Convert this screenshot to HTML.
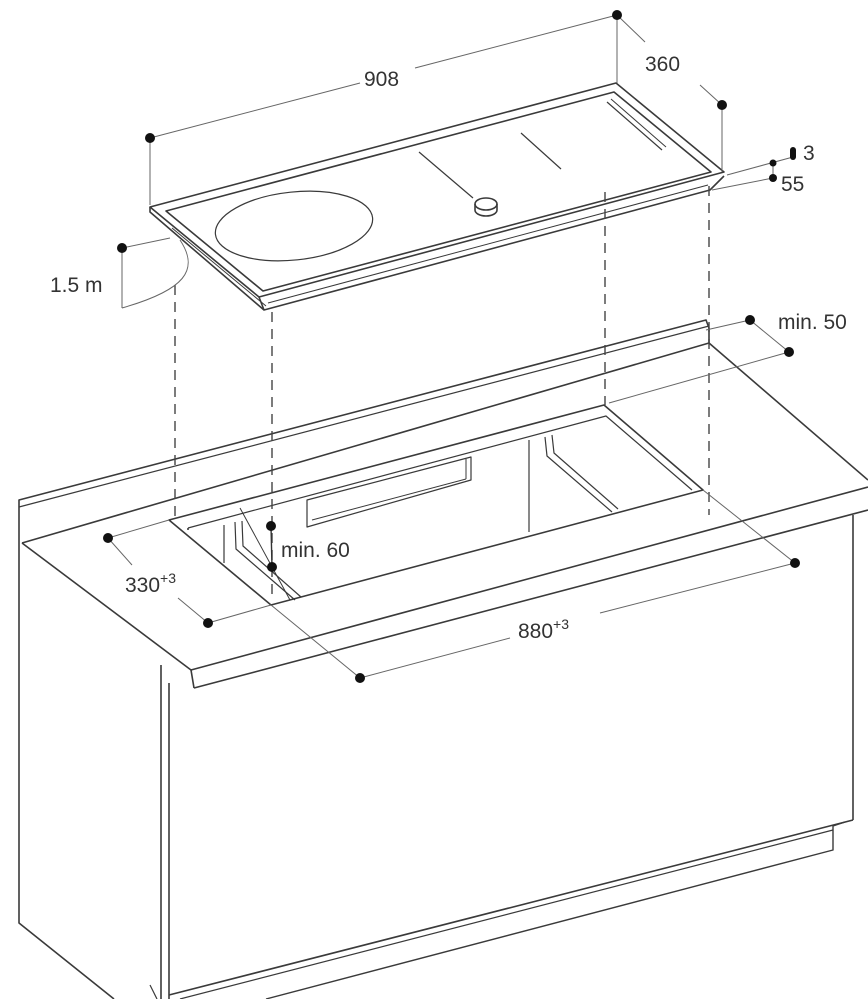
<!DOCTYPE html>
<html><head><meta charset="utf-8"><style>
html,body{margin:0;padding:0;background:#fff;width:868px;height:999px;overflow:hidden}
svg{display:block}
text{font-family:"Liberation Sans",sans-serif;fill:#333;font-size:21px}
</style></head><body>
<svg width="868" height="999" viewBox="0 0 868 999" xmlns="http://www.w3.org/2000/svg">
<g fill="none" stroke="#3a3a3a" stroke-width="1.6" stroke-linejoin="round">
<!-- cooktop -->
<polygon points="150,207 616,83 724,172 259,297"/>
<polygon points="166,211 614,92 711,172 263,291"/>
<polyline points="150,207 150,212 264,310 710,190 724,176"/>
<line x1="259" y1="297" x2="264" y2="310"/>
<line x1="172" y1="228" x2="266" y2="306" stroke-width="1"/>
<line x1="268" y1="303" x2="708" y2="185" stroke-width="1"/>
<ellipse cx="294" cy="226" rx="79" ry="34" transform="rotate(-6 294 226)" stroke-width="1.2"/>
<line x1="419" y1="152" x2="473" y2="198" stroke-width="1.2"/>
<ellipse cx="486" cy="204" rx="11" ry="6"/>
<path d="M475,204 v6 a11,6 0 0 0 22,0 v-6"/>
<line x1="521" y1="133" x2="561" y2="169" stroke-width="1.2"/>
<line x1="607" y1="102" x2="662" y2="150" stroke-width="1.2"/>
<line x1="611" y1="99" x2="666" y2="147" stroke-width="1"/>
<!-- countertop -->
<polyline points="19,545 19,500 706,320 709,328"/>
<line x1="19" y1="507" x2="709" y2="326" stroke-width="1.2"/>
<line x1="22" y1="543" x2="709" y2="343"/>
<line x1="709" y1="328" x2="709" y2="343"/>
<line x1="22" y1="543" x2="191" y2="670"/>
<line x1="191" y1="670" x2="868" y2="487"/>
<line x1="194" y1="688" x2="868" y2="510"/>
<line x1="191" y1="670" x2="194" y2="688"/>
<line x1="709" y1="343" x2="868" y2="480"/>
<!-- cutout -->
<polygon points="169,520 604,405 703,490 271,605"/>
<polyline points="188,528 606,416 692,490" stroke-width="1.2"/>
<line x1="188" y1="528" x2="188" y2="530"/>
<line x1="240" y1="508" x2="290" y2="600" stroke-width="1"/>
<line x1="224" y1="525" x2="224" y2="563" stroke-width="1.2"/>
<polyline points="235,522 236,549 295,600" stroke-width="1.2"/>
<polyline points="242,521 243,546 301,597" stroke-width="1.2"/>
<polygon points="307,500 471,457 471,480 307,527" stroke-width="1.2"/>
<line x1="312" y1="520" x2="466" y2="479" stroke-width="1"/>
<line x1="466" y1="459" x2="466" y2="479" stroke-width="1"/>
<line x1="529" y1="440" x2="529" y2="532" stroke-width="1.2"/>
<polyline points="545,437 547,456 612,512" stroke-width="1.2"/>
<polyline points="552,435 554,453 618,509" stroke-width="1.2"/>
<!-- cabinet -->
<polyline points="19,545 19,923 114,999"/>
<line x1="161" y1="665" x2="161" y2="999"/>
<line x1="169" y1="683" x2="169" y2="999"/>
<line x1="853" y1="515" x2="853" y2="820"/>
<line x1="853" y1="820" x2="169" y2="995"/>
<polyline points="845,822 833,826 833,850 266,999" stroke-width="1.4"/>
<line x1="833" y1="830" x2="180" y2="999" stroke-width="1.2"/>
<line x1="150" y1="985" x2="157" y2="999" stroke-width="1.2"/>
</g>
<!-- dashed -->
<g stroke="#444" stroke-width="1.4" stroke-dasharray="10,7" fill="none">
<line x1="175" y1="285" x2="175" y2="520"/>
<line x1="272" y1="312" x2="272" y2="600"/>
<line x1="605" y1="192" x2="605" y2="405"/>
<line x1="709" y1="186" x2="709" y2="515"/>
</g>
<!-- dimension lines -->
<g stroke="#666" stroke-width="1" fill="none">
<line x1="150" y1="138" x2="150" y2="205"/>
<line x1="150" y1="138" x2="360" y2="83"/>
<line x1="415" y1="68" x2="617" y2="15"/>
<line x1="617" y1="15" x2="617" y2="83"/>
<line x1="617" y1="15" x2="645" y2="42"/>
<line x1="700" y1="85" x2="722" y2="105"/>
<line x1="722" y1="105" x2="722" y2="172"/>
<line x1="727" y1="175" x2="793" y2="157"/>
<line x1="712" y1="190" x2="773" y2="178"/>
<line x1="773" y1="163" x2="773" y2="178"/>
<line x1="122" y1="248" x2="170" y2="238"/>
<line x1="122" y1="248" x2="122" y2="308"/>
<path d="M180,240 C200,270 185,290 122,308"/>
<line x1="706" y1="330" x2="750" y2="320"/>
<line x1="750" y1="320" x2="789" y2="352"/>
<line x1="609" y1="403" x2="789" y2="352"/>
<line x1="108" y1="538" x2="169" y2="520"/>
<line x1="108" y1="538" x2="132" y2="565"/>
<line x1="178" y1="598" x2="208" y2="623"/>
<line x1="208" y1="623" x2="271" y2="605"/>
<line x1="271" y1="605" x2="360" y2="678"/>
<line x1="703" y1="490" x2="795" y2="563"/>
<line x1="360" y1="678" x2="510" y2="638"/>
<line x1="600" y1="613" x2="795" y2="563"/>
<line x1="271" y1="526" x2="272" y2="567" stroke="#333" stroke-width="1.4"/>
</g>
<g fill="#111">
<circle cx="150" cy="138" r="5"/><circle cx="617" cy="15" r="5"/><circle cx="722" cy="105" r="5"/>
<circle cx="773" cy="163" r="3.5"/><circle cx="773" cy="178" r="4"/>
<rect x="790" y="147" width="6" height="13" rx="3"/>
<circle cx="122" cy="248" r="5"/>
<circle cx="750" cy="320" r="5"/><circle cx="789" cy="352" r="5"/>
<circle cx="108" cy="538" r="5"/><circle cx="208" cy="623" r="5"/>
<circle cx="271" cy="526" r="5"/><circle cx="272" cy="567" r="5"/>
<circle cx="360" cy="678" r="5"/><circle cx="795" cy="563" r="5"/>
</g>
<text x="364" y="86">908</text>
<text x="645" y="71">360</text>
<text x="803" y="160">3</text>
<text x="781" y="191">55</text>
<text x="50" y="292">1.5 m</text>
<text x="778" y="329">min. 50</text>
<text x="281" y="557">min. 60</text>
<text x="125" y="592">330<tspan font-size="14" dy="-9">+3</tspan></text>
<text x="518" y="638">880<tspan font-size="14" dy="-9">+3</tspan></text>
</svg>
</body></html>
